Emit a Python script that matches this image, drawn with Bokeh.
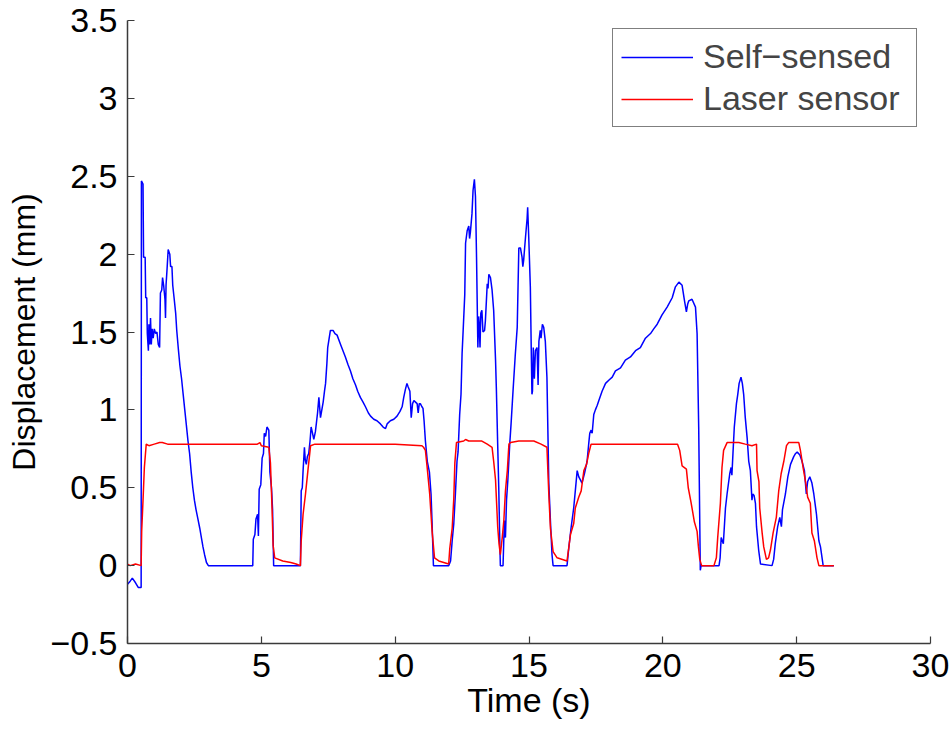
from bokeh.plotting import figure
from bokeh.models import Legend, LegendItem, FixedTicker
from bokeh.embed import file_html
from bokeh.resources import INLINE

# ---------------- data ----------------
self_t = [0.0, 0.1, 0.18, 0.3, 0.4, 0.51, 0.52, 0.58, 0.60, 0.66, 0.68, 0.72, 0.74, 0.78, 0.80, 0.83,
          0.86, 0.89, 0.92, 0.96, 1.0, 1.05, 1.1, 1.15, 1.2, 1.23, 1.28, 1.31, 1.35, 1.40, 1.42, 1.44,
          1.48, 1.52, 1.58, 1.61, 1.66, 1.69, 1.74, 1.80, 1.84, 1.90, 1.96, 2.02, 2.08, 2.14, 2.20,
          2.26, 2.32, 2.38, 2.44, 2.50, 2.56, 2.63, 2.70, 2.76, 2.82, 2.88, 2.95, 3.02, 4.68, 4.70,
          4.76, 4.80, 4.86, 4.89, 4.92, 4.98, 5.03, 5.08, 5.11, 5.16, 5.21, 5.28, 5.32, 5.38, 5.42,
          5.46, 6.46, 6.49, 6.53, 6.56, 6.61, 6.64, 6.68, 6.72, 6.77, 6.82, 6.86, 6.90, 6.96, 7.02,
          7.06, 7.10, 7.15, 7.21, 7.26, 7.31, 7.36, 7.40, 7.45, 7.48, 7.58, 7.68, 7.75, 7.83, 7.96,
          8.05, 8.14, 8.24, 8.33, 8.42, 8.52, 8.60, 8.70, 8.80, 8.89, 9.0, 9.08, 9.2, 9.32, 9.45,
          9.55, 9.64, 9.70, 9.82, 9.95, 10.07, 10.18, 10.26, 10.32, 10.38, 10.44, 10.48, 10.55,
          10.60, 10.65, 10.70, 10.76, 10.82, 10.86, 10.90, 10.94, 11.0, 11.04, 11.08, 11.13, 11.20,
          11.28, 11.34, 11.38, 11.43, 12.0, 12.07, 12.13, 12.19, 12.25, 12.31, 12.35, 12.41, 12.46,
          12.50, 12.54, 12.60, 12.63, 12.69, 12.75, 12.78, 12.81, 12.87, 12.91, 12.96, 13.0, 13.04,
          13.09, 13.12, 13.14, 13.17, 13.20, 13.24, 13.28, 13.34, 13.37, 13.44, 13.47, 13.50, 13.56,
          13.62, 13.68, 13.75, 13.78, 13.83, 13.87, 13.91, 13.93, 14.03, 14.08, 14.12, 14.16, 14.21,
          14.28, 14.33, 14.41, 14.49, 14.56, 14.62, 14.68, 14.74, 14.77, 14.80, 14.87, 14.93, 14.95,
          14.99, 15.05, 15.09, 15.11, 15.13, 15.16, 15.20, 15.24, 15.30, 15.34, 15.37, 15.42, 15.45,
          15.50, 15.55, 15.61, 15.67, 15.74, 15.80, 15.86, 15.90, 16.42, 16.49, 16.57, 16.67, 16.73,
          16.80, 16.86, 16.92, 16.98, 17.07, 17.17, 17.23, 17.27, 17.32, 17.36, 17.42, 17.48, 17.55,
          17.61, 17.73, 17.86, 17.98, 18.11, 18.23, 18.42, 18.60, 18.79, 18.98, 19.16, 19.35, 19.54,
          19.66, 19.79, 19.97, 20.16, 20.35, 20.47, 20.60, 20.72, 20.81, 20.88, 20.93, 20.97, 21.09,
          21.22, 21.28, 21.34, 21.40, 21.43, 22.10, 22.14, 22.18, 22.22, 22.26, 22.34, 22.40, 22.50,
          22.55, 22.58, 22.62, 22.67, 22.75, 22.80, 22.85, 22.92, 22.97, 23.02, 23.08, 23.15, 23.21,
          23.27, 23.33, 23.36, 23.41, 23.46, 23.50, 23.58, 23.65, 24.08, 24.14, 24.20, 24.29, 24.37,
          24.43, 24.47, 24.58, 24.67, 24.77, 24.89, 24.96, 25.02, 25.12, 25.20, 25.29, 25.36, 25.41,
          25.49, 25.57, 25.64, 25.74, 25.83, 25.89, 25.99, 26.39]
self_v = [-0.12, -0.10, -0.08, -0.11, -0.14, -0.14, 2.47, 2.45, 1.98, 1.98, 1.72, 1.72, 1.49, 1.38, 1.55, 1.42,
          1.59, 1.42, 1.52, 1.46, 1.52, 1.49, 1.50, 1.42, 1.40, 1.75, 1.77, 1.85, 1.80, 1.71, 1.59, 1.80,
          1.91, 2.03, 2.00, 1.92, 1.92, 1.80, 1.72, 1.62, 1.51, 1.39, 1.28, 1.20, 1.10, 1.00, 0.90,
          0.80, 0.72, 0.60, 0.50, 0.42, 0.36, 0.30, 0.24, 0.18, 0.12, 0.07, 0.02, 0.0, 0.0, 0.17,
          0.20, 0.30, 0.33, 0.19, 0.49, 0.52, 0.69, 0.72, 0.85, 0.83, 0.89, 0.87, 0.60, 0.50, 0.36,
          0.0, 0.0, 0.48, 0.50, 0.61, 0.76, 0.68, 0.65, 0.70, 0.72, 0.80, 0.89, 0.86, 0.81, 0.86,
          0.92, 0.98, 1.08, 0.95, 1.00, 1.05, 1.12, 1.17, 1.30, 1.40, 1.51, 1.51, 1.49, 1.48, 1.42,
          1.38, 1.34, 1.29, 1.25, 1.20, 1.16, 1.12, 1.08, 1.05, 1.02, 0.98, 0.96, 0.94, 0.93, 0.91,
          0.89, 0.88, 0.91, 0.93, 0.94, 0.96, 0.99, 1.02, 1.08, 1.13, 1.17, 1.15, 1.12,
          0.95, 1.04, 1.06, 1.05, 1.04, 0.98, 1.04, 1.04, 1.02, 1.01, 0.93, 0.80, 0.67,
          0.60, 0.46, 0.27, 0.0, 0.0, 0.03, 0.16, 0.27, 0.46, 0.67, 0.73, 0.97, 1.10,
          1.36, 1.51, 1.74, 2.07, 2.15, 2.18, 2.10, 2.14, 2.26, 2.41, 2.48, 2.37, 1.98,
          1.40, 1.60, 1.55, 1.40, 1.62, 1.64, 1.50, 1.51, 1.57, 1.81, 1.78, 1.87, 1.85,
          1.77, 1.64, 1.32, 1.14, 0.78, 0.50, 0.14, 0.0, 0.0, 0.29, 0.18, 0.42, 0.55,
          0.78, 0.91, 1.14, 1.36, 1.53, 2.04, 2.04, 1.98, 1.92, 1.96, 2.11, 2.23, 2.30,
          2.11, 1.79, 1.32, 1.10, 1.12, 1.40, 1.20, 1.38, 1.40, 1.16, 1.44, 1.51, 1.46,
          1.55, 1.53, 1.44, 1.21, 0.53, 0.29, 0.07, 0.0, 0.0, 0.12, 0.24, 0.37, 0.48,
          0.61, 0.57, 0.55, 0.53, 0.59, 0.67, 0.78, 0.85, 0.87, 0.85, 0.97, 1.00, 1.03,
          1.06, 1.12, 1.17, 1.19, 1.21, 1.25, 1.27, 1.32, 1.34, 1.38, 1.40, 1.46, 1.49,
          1.52, 1.55, 1.61, 1.66, 1.72, 1.79, 1.82, 1.80, 1.70, 1.63, 1.68, 1.70, 1.71,
          1.66, 1.49, 0.89, -0.03, 0.0, 0.0, 0.05, 0.18, 0.16, 0.14, 0.37, 0.46, 0.59,
          0.63, 0.58, 0.72, 0.89, 1.04, 1.10, 1.17, 1.21, 1.17, 1.10, 0.95, 0.82, 0.67,
          0.61, 0.42, 0.46, 0.45, 0.40, 0.25, 0.10, 0.01, 0.0, 0.04, 0.14, 0.25, 0.31,
          0.25, 0.36, 0.46, 0.57, 0.65, 0.70, 0.72, 0.73, 0.71, 0.67, 0.61, 0.46, 0.54,
          0.57, 0.53, 0.46, 0.33, 0.16, 0.12, 0.0, 0.0]

laser_t = [0.0, 0.1, 0.3, 0.51, 0.53, 0.58, 0.63, 0.70, 0.80, 1.0, 1.2, 1.3, 1.5, 4.85, 4.95, 5.0,
           5.28, 5.34, 5.40, 5.44, 5.50, 5.8, 6.1, 6.3, 6.46, 6.49, 6.56, 6.65, 6.74, 6.84, 7.0,
           8.0, 9.0, 10.0, 11.0, 11.06, 11.13, 11.19, 11.29, 11.38, 11.47, 11.63, 12.0, 12.04,
           12.13, 12.19, 12.23, 12.29, 12.56, 12.63, 12.75, 13.24, 13.44, 13.62, 13.68, 13.75,
           13.83, 13.88, 13.93, 14.0, 14.06, 14.12, 14.19, 14.25, 14.31, 14.62, 15.18, 15.45,
           15.67, 15.74, 15.80, 15.90, 16.05, 16.42, 16.49, 16.55, 16.67, 16.73, 16.86, 16.95,
           17.05, 17.15, 17.23, 17.32, 18.0, 19.0, 20.0, 20.55, 20.63, 20.72, 20.88, 20.95,
           21.05, 21.18, 21.28, 21.33, 21.38, 21.45, 21.91, 22.0, 22.05, 22.15, 22.21, 22.27,
           22.40, 22.84, 23.08, 23.33, 23.50, 23.52, 23.59, 23.62, 23.71, 23.77, 23.87, 23.95,
           24.02, 24.12, 24.24, 24.33, 24.42, 24.52, 24.62, 24.70, 25.08, 25.14, 25.24, 25.33,
           25.41, 25.51, 25.57, 25.66, 25.76, 25.83, 26.39]
laser_v = [0.01, 0.0, 0.01, 0.0, 0.22, 0.42, 0.63, 0.78, 0.77, 0.78, 0.79, 0.79, 0.78, 0.78, 0.79, 0.77,
           0.76, 0.66, 0.37, 0.13, 0.05, 0.03, 0.02, 0.01, 0.0, 0.16, 0.33, 0.46, 0.61, 0.77, 0.78,
           0.78, 0.78, 0.78, 0.77, 0.76, 0.74, 0.64, 0.46, 0.22, 0.05, 0.03, 0.01, 0.11,
           0.24, 0.43, 0.66, 0.79, 0.80, 0.81, 0.80, 0.80, 0.78, 0.76, 0.67, 0.55,
           0.25, 0.14, 0.07, 0.18, 0.29, 0.48, 0.61, 0.78, 0.79, 0.80, 0.80, 0.78,
           0.76, 0.46, 0.24, 0.09, 0.05, 0.03, 0.12, 0.20, 0.27, 0.37, 0.44, 0.48,
           0.61, 0.65, 0.72, 0.78, 0.78, 0.78, 0.78, 0.78, 0.74, 0.64, 0.62, 0.50,
           0.41, 0.28, 0.22, 0.12, 0.04, 0.0, 0.0, 0.05, 0.18, 0.40, 0.63, 0.74,
           0.79, 0.79, 0.78, 0.77, 0.78, 0.61, 0.54, 0.37, 0.21, 0.12, 0.04, 0.05,
           0.10, 0.21, 0.31, 0.48, 0.59, 0.67, 0.77, 0.79, 0.79, 0.74, 0.63, 0.54,
           0.44, 0.40, 0.21, 0.16, 0.05, 0.0, 0.0]

x_ticks = [0, 5, 10, 15, 20, 25, 30]
y_ticks = [-0.5, 0, 0.5, 1, 1.5, 2, 2.5, 3, 3.5]
y_tick_labels = ["\u22120.5", "0", "0.5", "1", "1.5", "2", "2.5", "3", "3.5"]
series_names = ["Self\u2212sensed", "Laser sensor"]
series_colors = ["#0000ff", "#ff0000"]

FONT = "Liberation Sans"
FS = "34px"
AX = "#3a3a3a"

p = figure(width=949, height=731, x_range=(0, 30), y_range=(-0.5, 3.5),
           output_backend="svg", toolbar_location=None)
p.min_border_left = 127
p.min_border_right = 19
p.min_border_top = 20
p.min_border_bottom = 88
p.outline_line_color = None
p.xgrid.visible = False
p.ygrid.visible = False
p.background_fill_color = "white"
p.border_fill_color = "white"

r1 = p.line(self_t, self_v, line_color=series_colors[0], line_width=1.5)
r2 = p.line(laser_t, laser_v, line_color=series_colors[1], line_width=1.5)

for ax in (p.xaxis[0], p.yaxis[0]):
    ax.axis_line_color = AX
    ax.axis_line_width = 1.5
    ax.major_tick_line_color = AX
    ax.major_tick_line_width = 1.2
    ax.major_tick_in = 7
    ax.major_tick_out = 0
    ax.minor_tick_line_color = None
    ax.major_label_text_font = FONT
    ax.major_label_text_font_size = FS
    ax.major_label_text_color = "black"
    ax.axis_label_text_font = FONT
    ax.axis_label_text_font_size = FS
    ax.axis_label_text_font_style = "normal"
    ax.axis_label_text_color = "black"

p.xaxis.ticker = FixedTicker(ticks=x_ticks)
p.yaxis.ticker = FixedTicker(ticks=y_ticks)
p.yaxis.major_label_overrides = {t: l for t, l in zip(y_ticks, y_tick_labels)}
p.xaxis.axis_label = "Time (s)"
p.yaxis.axis_label = "Displacement (mm)"
p.yaxis.axis_label_text_font_size = "32px"
p.xaxis.major_label_standoff = 10
p.yaxis.major_label_standoff = 10
p.xaxis.axis_label_standoff = 1
p.yaxis.axis_label_standoff = 5

legend = Legend(items=[LegendItem(label=series_names[0], renderers=[r1]),
                       LegendItem(label=series_names[1], renderers=[r2])],
                location=(485, 516))
legend.label_text_font = FONT
legend.label_text_font_size = FS
legend.glyph_width = 72
legend.glyph_height = 30
legend.label_standoff = 10
legend.label_width = 205
legend.padding = 8
legend.spacing = 3
legend.border_line_color = "black"
legend.border_line_width = 1
legend.background_fill_color = "white"
legend.background_fill_alpha = 1
legend.margin = 0
p.add_layout(legend)

open("out.html", "w").write(file_html(p, INLINE))
